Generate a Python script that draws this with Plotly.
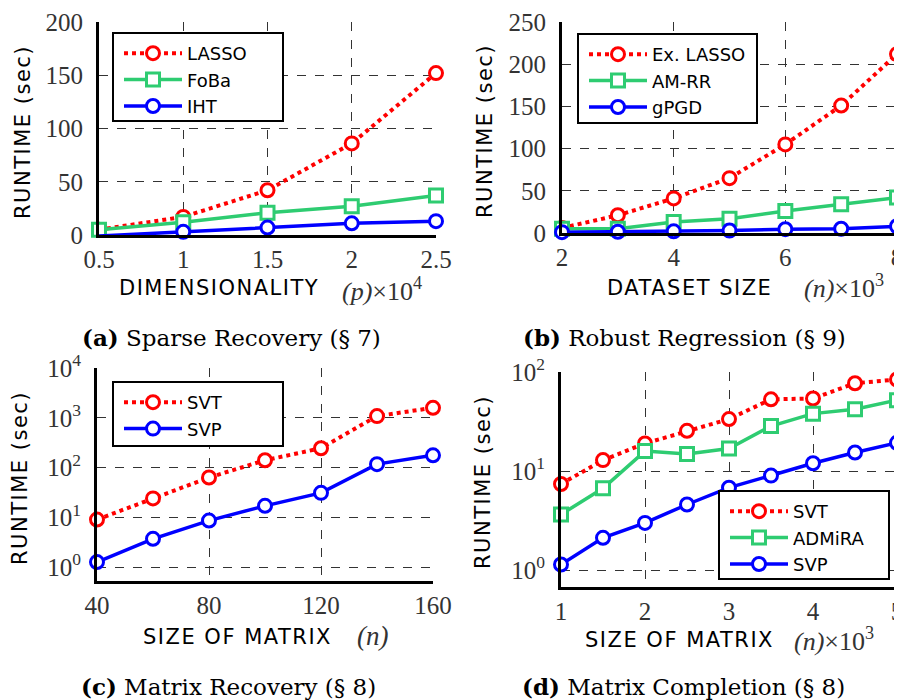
import plotly.graph_objects as go

# ---------------- data ----------------
# (a) Sparse recovery
a_x = [0.5, 1.0, 1.5, 2.0, 2.5]
a_lasso = [5, 17, 42, 86, 152]
a_foba = [5, 12, 21, 27, 37]
a_iht = [-1, 3, 7, 11, 13]

# (b) Robust regression
b_x = [2, 3, 4, 5, 6, 7, 8]
b_exlasso = [6, 21, 41, 65, 105, 151, 212]
b_amrr = [5, 5, 13, 17, 26, 34, 42]
b_gpgd = [1, 1.5, 2, 3, 4.5, 5, 8]

# (c) Matrix recovery
c_x = [40, 60, 80, 100, 120, 140, 160]
c_svt = [9, 24, 63, 140, 244, 1080, 1585]
c_svp = [1.26, 3.7, 8.6, 17, 31, 117, 176]

# (d) Matrix completion
d_x = [1, 1.5, 2, 2.5, 3, 3.5, 4, 4.5, 5]
d_svt = [7.4, 12.9, 19, 25.5, 33.5, 53, 54, 77, 84]
d_admira = [3.65, 6.7, 15.9, 14.9, 16.9, 28.5, 38, 42, 52]
d_svp = [1.14, 2.12, 3.0, 4.6, 6.8, 9.0, 12, 15.4, 19.3]

RED = "#ff0000"
GREEN = "#2ecc71"
BLUE = "#0000ff"
SANS = "DejaVu Sans"
SERIF = "Liberation Serif"
CAPSERIF = "DejaVu Serif"

# page body has an 8px margin: the figure starts at (8, 8) on the page
OFF = 8
W, H = 902 - OFF, 700 - OFF

fig = go.Figure()


def add(x, y, name, color, sym, dash, xa, ya, leg):
    fig.add_trace(go.Scatter(
        x=x, y=y, name=name, mode="lines+markers",
        line=dict(color=color, width=4 if dash == "dot" else 3.5, dash=dash),
        marker=dict(symbol=sym, size=13, color="white",
                    line=dict(color=color, width=3)),
        xaxis=xa, yaxis=ya, legend=leg, cliponaxis=False,
    ))


add(a_x, a_lasso, "LASSO", RED, "circle", "dot", "x", "y", "legend")
add(a_x, a_foba, "FoBa", GREEN, "square", "solid", "x", "y", "legend")
add(a_x, a_iht, "IHT", BLUE, "circle", "solid", "x", "y", "legend")

add(b_x, b_exlasso, "Ex. LASSO", RED, "circle", "dot", "x2", "y2", "legend2")
add(b_x, b_amrr, "AM-RR", GREEN, "square", "solid", "x2", "y2", "legend2")
add(b_x, b_gpgd, "gPGD", BLUE, "circle", "solid", "x2", "y2", "legend2")

add(c_x, c_svt, "SVT", RED, "circle", "dot", "x3", "y3", "legend3")
add(c_x, c_svp, "SVP", BLUE, "circle", "solid", "x3", "y3", "legend3")

add(d_x, d_svt, "SVT", RED, "circle", "dot", "x4", "y4", "legend4")
add(d_x, d_admira, "ADMiRA", GREEN, "square", "solid", "x4", "y4", "legend4")
add(d_x, d_svp, "SVP", BLUE, "circle", "solid", "x4", "y4", "legend4")

axis_common = dict(
    showline=True, linewidth=3, linecolor="black", mirror=False, automargin=False,
    showgrid=True, gridcolor="#333333", gridwidth=1, griddash="dash",
    zeroline=False, ticks="", ticklabeloverflow="allow",
    tickfont=dict(family=SERIF, size=25, color="#333333"),
)


def px_x(X):
    return (X - OFF) / W


def px_y(Y):
    return 1 - (Y - OFF) / H


def px_dom_x(a, b):
    return [px_x(a), px_x(b)]


def px_dom_y(top, bottom):
    return [px_y(bottom), px_y(top)]


fig.update_layout(
    xaxis=dict(axis_common, domain=px_dom_x(99, 436), range=[0.5, 2.5],
               tickvals=[0.5, 1, 1.5, 2, 2.5], ticktext=["0.5", "1", "1.5", "2", "2.5"], anchor="y"),
    yaxis=dict(axis_common, domain=px_dom_y(22, 235), range=[0, 200],
               tickvals=[0, 50, 100, 150, 200], anchor="x", ticklabelstandoff=8),
    xaxis2=dict(axis_common, domain=px_dom_x(562, 897), range=[2, 8],
                tickvals=[2, 4, 6, 8], anchor="y2"),
    yaxis2=dict(axis_common, domain=px_dom_y(22, 233), range=[0, 250],
                tickvals=[0, 50, 100, 150, 200, 250], anchor="x2", ticklabelstandoff=8),
    xaxis3=dict(axis_common, domain=px_dom_x(97, 433), range=[40, 160],
                tickvals=[40, 80, 120, 160], anchor="y3"),
    yaxis3=dict(axis_common, domain=px_dom_y(368, 581), type="log", range=[-0.28, 4],
                tickvals=[1, 10, 100, 1000, 10000],
                ticktext=["10<sup>0</sup>", "10<sup>1</sup>", "10<sup>2</sup>", "10<sup>3</sup>", "10<sup>4</sup>"],
                anchor="x3", ticklabelstandoff=8),
    xaxis4=dict(axis_common, domain=px_dom_x(561, 897), range=[1, 5],
                tickvals=[1, 2, 3, 4, 5], anchor="y4"),
    yaxis4=dict(axis_common, domain=px_dom_y(372, 587), type="log", range=[-0.17, 2],
                tickvals=[1, 10, 100],
                ticktext=["10<sup>0</sup>", "10<sup>1</sup>", "10<sup>2</sup>"],
                anchor="x4", ticklabelstandoff=8),
)

# legend boxes (page px): left, top, right, bottom
leg_boxes = {
    "legend": (113, 33, 283, 121),
    "legend2": (578, 34, 757, 123),
    "legend3": (113, 382, 283, 446),
    "legend4": (719, 491, 889, 579),
}

leg_common = dict(bgcolor="rgba(0,0,0,0)", borderwidth=0,
                  font=dict(family=SANS, size=18, color="black"),
                  xanchor="left", yanchor="top", itemwidth=58, tracegroupgap=0)

shapes = []
for key, (l, t, r, b) in leg_boxes.items():
    fig.update_layout({key: dict(leg_common, x=px_x(l + 6), y=px_y(t + 2))})
    shapes.append(dict(type="rect", xref="paper", yref="paper", layer="above",
                       x0=px_x(l), x1=px_x(r), y0=px_y(b), y1=px_y(t),
                       fillcolor="white", line=dict(color="black", width=2)))

ann = []


def txt(x, y, text, family, size, xanchor="center", angle=0, color="black"):
    ann.append(dict(x=px_x(x), y=px_y(y), xref="paper", yref="paper", text=text,
                    showarrow=False, xanchor=xanchor, yanchor="middle", textangle=angle,
                    font=dict(family=family, size=size, color=color)))


def spaced(s):
    return "<span style='letter-spacing:1.5px'>" + s + "</span>"


# y-axis titles
for (x, y) in [(23, 132), (485, 131), (20, 478), (483, 482)]:
    txt(x, y, spaced("RUNTIME (sec)"), SANS, 21, angle=-90)

# x-axis titles
txt(117, 288, spaced("DIMENSIONALITY"), SANS, 21, xanchor="left")
txt(340, 289, "<i>(p)</i>×10<sup>4</sup>", SERIF, 26, xanchor="left", color="#333333")
txt(605, 288, spaced("DATASET SIZE"), SANS, 21, xanchor="left")
txt(802, 287, "<i>(n)</i>×10<sup>3</sup>", SERIF, 26, xanchor="left", color="#333333")
txt(141, 637, spaced("SIZE OF MATRIX"), SANS, 21, xanchor="left")
txt(355, 636, "<i>(n)</i>", SERIF, 27, xanchor="left", color="#333333")
txt(583, 640, spaced("SIZE OF MATRIX"), SANS, 21, xanchor="left")
txt(792, 639, "<i>(n)</i>×10<sup>3</sup>", SERIF, 26, xanchor="left", color="#333333")

# captions
txt(231, 337, "<b>(a)</b> Sparse Recovery (§ 7)", CAPSERIF, 23)
txt(684, 337, "<b>(b)</b> Robust Regression (§ 9)", CAPSERIF, 23)
txt(228, 686, "<b>(c)</b> Matrix Recovery (§ 8)", CAPSERIF, 23)
txt(683, 686, "<b>(d)</b> Matrix Completion (§ 8)", CAPSERIF, 23)

fig.update_layout(annotations=ann, shapes=shapes, width=W, height=H,
                  margin=dict(l=0, r=0, t=0, b=0),
                  paper_bgcolor="white", plot_bgcolor="white")

fig.write_html("out.html")
